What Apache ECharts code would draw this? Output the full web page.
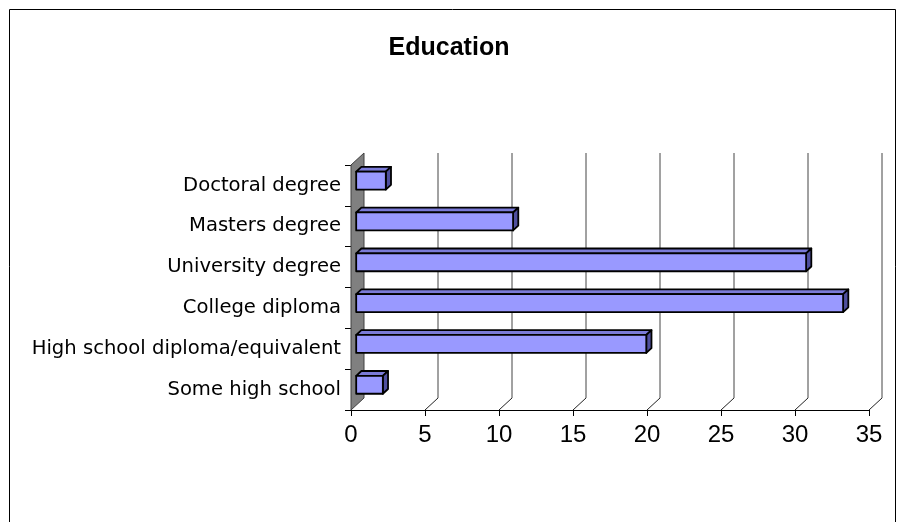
<!DOCTYPE html>
<html>
<head>
<meta charset="utf-8">
<script src="https://cdn.jsdelivr.net/npm/echarts@6/dist/echarts.min.js"></script>
<style>
  html, body { margin: 0; padding: 0; background: #fff; }
  #chart { width: 898px; height: 522px; }
</style>
</head>
<body>
<div id="chart"></div>
<script>
// Survey responses by highest level of education
const chartTitle = 'Education';
const categories = [
  'Doctoral degree',
  'Masters degree',
  'University degree',
  'College diploma',
  'High school diploma/equivalent',
  'Some high school'
];
const values = [2, 10.6, 30.4, 32.9, 19.6, 1.8];
const valueTicks = [0, 5, 10, 15, 20, 25, 30, 35];

// Oblique 3D projection: offset of the back wall from the front plane (px)
const DEPTH_X = 13;
const DEPTH_Y = -12;
// Bars sit between these fractions of the full depth
const BAR_NEAR = 0.4;
const BAR_FAR = 0.8;
const BAR_THICKNESS = 0.44; // share of the category band

const chart = echarts.init(document.getElementById('chart'), null, { renderer: 'canvas' });

function renderFrame(params, api) {
  const v = api.value(0);
  const cs = params.coordSys;
  const bottom = cs.y + cs.height;
  const top = cs.y;
  const x = api.coord([v, 0])[0];
  const children = [];
  if (params.dataIndex === 0) {
    // grey side wall on the left
    children.push({
      type: 'polygon',
      shape: { points: [[x, top], [x + DEPTH_X, top + DEPTH_Y], [x + DEPTH_X, bottom + DEPTH_Y], [x, bottom]] },
      style: { fill: '#808080', stroke: '#404040', lineWidth: 1 }
    });
  } else {
    // floor line from front tick to back wall
    children.push({
      type: 'line',
      shape: { x1: x, y1: bottom, x2: x + DEPTH_X, y2: bottom + DEPTH_Y },
      style: { stroke: '#222', lineWidth: 1 }
    });
    // vertical gridline on the back wall
    children.push({
      type: 'line',
      shape: { x1: x + DEPTH_X, y1: bottom + DEPTH_Y, x2: x + DEPTH_X, y2: top + DEPTH_Y },
      style: { stroke: '#444', lineWidth: 1 }
    });
  }
  return { type: 'group', children: children };
}

function renderBar(params, api) {
  const v = api.value(0);
  const idx = api.value(1);
  const end = api.coord([v, idx]);
  const start = api.coord([0, idx]);
  const band = api.size([0, 1])[1];
  const h = band * BAR_THICKNESS;
  const nx = DEPTH_X * BAR_NEAR, ny = DEPTH_Y * BAR_NEAR;
  const dx = DEPTH_X * (BAR_FAR - BAR_NEAR), dy = DEPTH_Y * (BAR_FAR - BAR_NEAR);
  const x0 = start[0] + nx, x1 = end[0] + nx;
  const yc = end[1] + ny;
  const yt = yc - h / 2, yb = yc + h / 2;
  const edge = { stroke: '#000', lineWidth: 1.8, lineJoin: 'round' };
  return {
    type: 'group',
    children: [
      {
        type: 'polygon',
        shape: { points: [[x0, yt], [x0 + dx, yt + dy], [x1 + dx, yt + dy], [x1, yt]] },
        style: Object.assign({ fill: '#7b7bd8' }, edge)
      },
      {
        type: 'polygon',
        shape: { points: [[x1, yt], [x1 + dx, yt + dy], [x1 + dx, yb + dy], [x1, yb]] },
        style: Object.assign({ fill: '#4f4f9e' }, edge)
      },
      {
        type: 'rect',
        shape: { x: x0, y: yt, width: x1 - x0, height: h },
        style: Object.assign({ fill: '#9999ff' }, edge)
      }
    ]
  };
}

const option = {
  backgroundColor: '#fff',
  animation: false,
  title: {
    text: chartTitle,
    left: 'center',
    top: 31,
    textStyle: { fontFamily: 'Liberation Sans, Arial, sans-serif', fontWeight: 'bold', fontSize: 25, color: '#000' }
  },
  graphic: [{
    type: 'rect',
    shape: { x: 9.5, y: 9.5, width: 886, height: 540 },
    style: { fill: null, stroke: '#000', lineWidth: 1 },
    silent: true
  }],
  grid: { left: 351, top: 165, width: 518, height: 245, containLabel: false },
  xAxis: {
    type: 'value',
    min: 0,
    max: 35,
    interval: 5,
    axisLine: { show: true, lineStyle: { color: '#000', width: 1 } },
    axisTick: { show: true, length: 6, lineStyle: { color: '#000' } },
    splitLine: { show: false },
    axisLabel: {
      margin: 13,
      fontFamily: 'Liberation Sans, Arial, sans-serif',
      fontSize: 24,
      color: '#000'
    }
  },
  yAxis: {
    type: 'category',
    inverse: true,
    data: categories,
    axisLine: { show: true, lineStyle: { color: '#000', width: 1 } },
    axisTick: { show: true, length: 6, lineStyle: { color: '#000' } },
    axisLabel: {
      margin: 10,
      fontFamily: 'DejaVu Sans, sans-serif',
      fontSize: 19.6,
      color: '#000',
      padding: [0, 0, 8, 0]
    }
  },
  series: [
    {
      type: 'custom',
      name: 'frame',
      silent: true,
      z: 1,
      renderItem: renderFrame,
      encode: { x: 0, y: 1 },
      data: valueTicks.map(t => [t, 0])
    },
    {
      type: 'custom',
      name: 'Education',
      z: 3,
      renderItem: renderBar,
      encode: { x: 0, y: 1 },
      data: values.map((v, i) => [v, i])
    }
  ]
};

chart.setOption(option);
</script>
</body>
</html>
